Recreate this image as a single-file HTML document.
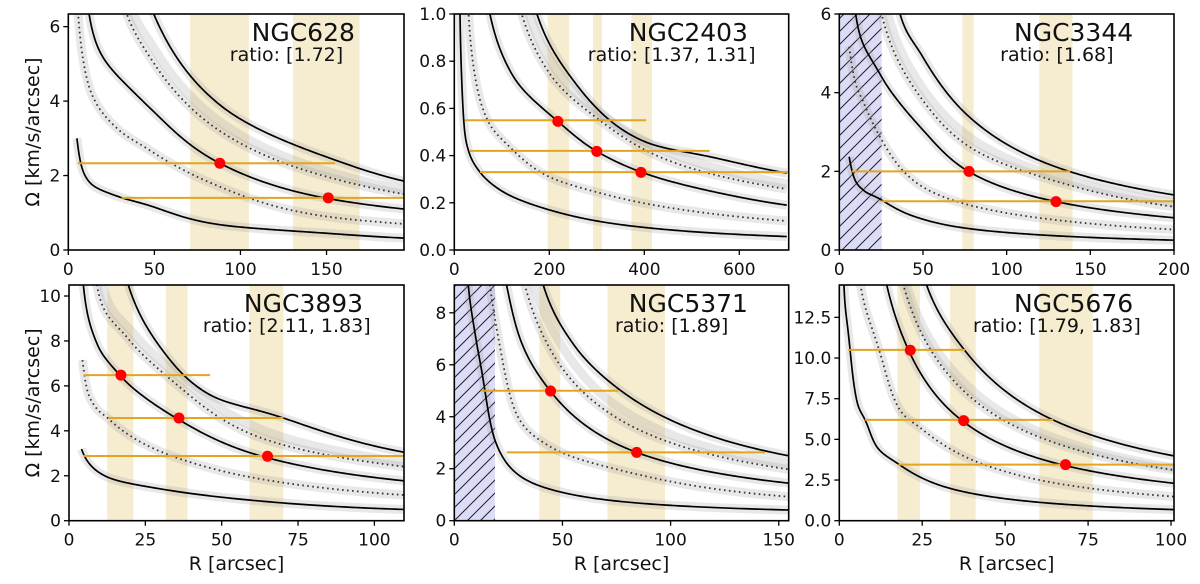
<!DOCTYPE html>
<html><head><meta charset="utf-8"><style>
html,body{margin:0;padding:0;background:#fff;}
svg{display:block;font-family:"DejaVu Sans","Liberation Sans",sans-serif;}
</style></head><body>
<svg id="fig" width="1200" height="584" viewBox="0 0 1200 584" xmlns="http://www.w3.org/2000/svg">
<defs>
<pattern id="hatch" patternUnits="userSpaceOnUse" width="13" height="13">
<rect width="13" height="13" fill="#dcdcf8"/>
<path d="M-1,1 L1,-1 M0,13 L13,0 M12,14 L14,12" stroke="#222" stroke-width="1"/>
</pattern>
</defs>
</svg>
<script>
// ===== NGC628 =====
const A_bot_R=[5,8,12,30,50,88,150,195]; const A_bot_W=[3.0,2.2,1.84,1.42,1.15,0.68,0.45,0.32];
const A_ld_R=[5,8,12,30,50,88,150,195]; const A_ld_W=[6.8,5.3,4.4,3.2,2.6,1.7,0.9,0.7];
const A_mid_R=[8,12,50,88,150,195]; const A_mid_W=[8.5,6.36,3.7,2.33,1.39,1.10];
const A_ud_R=[25,34,50,88,150,195]; const A_ud_W=[8.0,6.34,5.0,3.2,1.97,1.5];
const A_ex_R=[28,38,50,88,150,195]; const A_ex_W=[8.0,6.34,5.4,3.45,2.12,1.62];
const A_top_R=[38,50,88,150,195]; const A_top_W=[8.0,6.3,3.9,2.5,1.85];
const A_spanR0=[70.8,130.5]; const A_spanR1=[104.9,169.2];
const A_hW=[2.33,1.4]; const A_hR0=[5.5,31]; const A_hR1=[155,195];
const A_dotR=[88,151]; const A_dotW=[2.33,1.4];
const A_xticks=[0,50,100,150]; const A_yticks=[0,2,4,6];
// ===== NGC2403 =====
const B_bot_R=[10,12,16,22,30,54,100,200,380,700]; const B_bot_W=[1.4,1.0,0.7,0.5,0.42,0.33,0.25,0.17,0.10,0.057];
const B_ld_R=[25,30,45,70,120,200,300,450,700]; const B_ld_W=[1.25,1.0,0.72,0.55,0.43,0.31,0.245,0.18,0.123];
const B_mid_R=[60,75,120,218,300,395,550,700]; const B_mid_W=[1.2,1.0,0.75,0.545,0.418,0.329,0.245,0.19];
const B_ud_R=[120,142,200,306,450,700]; const B_ud_W=[1.2,1.0,0.75,0.55,0.38,0.258];
const B_ex_R=[135,158,220,320,470,700]; const B_ex_W=[1.2,1.0,0.75,0.56,0.40,0.28];
const B_top_R=[150,174,250,400,550,700]; const B_top_W=[1.2,1.0,0.72,0.46,0.39,0.326];
const B_spanR0=[196.5,292,372.9]; const B_spanR1=[241.8,311,416.4];
const B_hW=[0.55,0.42,0.33]; const B_hR0=[22.5,33,54]; const B_hR1=[404,537.6,704];
const B_dotR=[218,300,393]; const B_dotW=[0.545,0.418,0.329];
const B_xticks=[0,200,400,600]; const B_yticks=[0,0.2,0.4,0.6,0.8,1.0];
// ===== NGC3344 =====
const C_bot_R=[5.9,9.4,15,25.3,45,70,130,200]; const C_bot_W=[2.37,1.78,1.5,1.27,0.85,0.59,0.36,0.25];
const C_ld_R=[5.9,10,15,25.3,50,90,130,200]; const C_ld_W=[5.17,4.2,3.7,2.8,1.6,1.02,0.76,0.52];
const C_mid_R=[7,9.8,25.3,50,77.5,129.5,200]; const C_mid_W=[7.5,6.0,4.4,3.05,1.99,1.23,0.82];
const C_ud_R=[20,25.3,50,77.5,130,200]; const C_ud_W=[7.3,6.0,3.8,2.63,1.74,1.10];
const C_ex_R=[23,29,50,80,130,200]; const C_ex_W=[7.3,6.0,4.1,2.8,1.86,1.2];
const C_top_R=[30,36.3,50,77.5,138,200]; const C_top_W=[7.5,6.0,4.9,3.39,1.99,1.40];
const C_spanR0=[73.5,119.5]; const C_spanR1=[80.3,139.4];
const C_hW=[2.0,1.24]; const C_hR0=[7.4,25.3]; const C_hR1=[138,200];
const C_dotR=[77.5,129.5]; const C_dotW=[2.0,1.23];
const C_xticks=[0,50,100,150,200]; const C_yticks=[0,2,4,6];
// ===== NGC3893 =====
const D_bot_R=[4.1,5.8,12.3,32,59,110]; const D_bot_W=[3.19,2.7,1.96,1.37,0.92,0.5];
const D_ld_R=[4.4,6,9,13.4,37.5,64.7,110]; const D_ld_W=[7.15,5.8,5.0,4.48,2.7,1.81,1.14];
const D_mid_R=[4,4.7,9.1,16.9,35.8,64.4,110]; const D_mid_W=[12,10.5,7.9,6.44,4.51,2.82,1.77];
const D_ud_R=[7.5,9.1,20,35.8,64.7,110]; const D_ud_W=[12.5,10.5,8.0,6.0,3.6,2.40];
const D_ex_R=[9,11,22,38,66,110]; const D_ex_W=[12.5,10.5,8.2,6.2,3.9,2.6];
const D_top_R=[16,19.4,30,46.2,70.2,110]; const D_top_W=[12.5,10.5,7.7,5.6,4.57,3.04];
const D_spanR0=[12.5,31.7,59.1]; const D_spanR1=[21.1,38.8,70.2];
const D_hW=[6.48,4.57,2.88]; const D_hR0=[4.7,12.9,4.7]; const D_hR1=[46.2,70.2,110];
const D_dotR=[17,36,65]; const D_dotW=[6.48,4.57,2.87];
const D_xticks=[0,25,50,75,100]; const D_yticks=[0,2,4,6,8,10];
// ===== NGC5371 =====
const E_bot_R=[5,6.5,10,13.4,18.8,28.8,52,98,155]; const E_bot_W=[11,9.05,7,5.4,3.1,1.82,1.05,0.6,0.41];
const E_ld_R=[14,16.5,21.1,28.8,44.3,82.8,155]; const E_ld_W=[11,9.05,6.7,4.1,2.85,1.82,0.92];
const E_mid_R=[20,24.2,30,44.4,84.3,155]; const E_mid_W=[11,9.05,7.1,4.99,2.63,1.44];
const E_ud_R=[28,32.7,45,67.3,155]; const E_ud_W=[11,9.05,6.5,4.4,1.97];
const E_ex_R=[31,36.7,50,72,155]; const E_ex_W=[11,9.05,6.7,4.6,2.15];
const E_top_R=[36,41.2,55,76.6,155]; const E_top_W=[11,9.05,6.8,5.03,2.49];
const E_spanR0=[39.3,70.8]; const E_spanR1=[49,97.4];
const E_hW=[5.0,2.63]; const E_hR0=[12.6,24.2]; const E_hR1=[75.8,143.7];
const E_dotR=[44.5,84.3]; const E_dotW=[4.99,2.63];
const E_xticks=[0,50,100,150]; const E_yticks=[0,2,4,6,8];
// ===== NGC5676 =====
const F_bot_R=[1.0,1.4,3,5.5,8.2,11.3,18.3,35,65,101]; const F_bot_W=[18,14.5,11,7.2,6.0,4.55,3.42,1.9,1.05,0.68];
const F_ld_R=[5,6.4,12.3,18.3,25.3,45.4,65.5,101]; const F_ld_W=[17,14.5,10.3,6.8,5.57,3.32,2.3,1.48];
const F_mid_R=[12,14.3,21,37.4,68.3,101]; const F_mid_W=[17,14.5,10.43,6.09,3.38,2.3];
const F_ud_R=[16.5,19.3,37.4,65.5,101]; const F_ud_W=[17,14.5,8.0,4.75,3.11];
const F_ex_R=[17.5,20.3,38,66,101]; const F_ex_W=[17,14.5,8.4,5.0,3.25];
const F_top_R=[23,26.3,37.9,64.5,101]; const F_top_W=[17,14.5,10.45,6.19,3.98];
const F_spanR0=[17.5,33.4,60.3]; const F_spanR1=[24.3,41.1,76.4];
const F_hW=[10.5,6.2,3.45]; const F_hR0=[2.7,7.7,17.8]; const F_hR1=[37.9,64.5,101];
const F_dotR=[21.4,37.5,68.2]; const F_dotW=[10.48,6.15,3.45];
const F_xticks=[0,25,50,75,100]; const F_yticks=[0,2.5,5,7.5,10,12.5];

const NS='http://www.w3.org/2000/svg';
const svg=document.getElementById('fig');
function mk(tag,attrs,parent){const e=document.createElementNS(NS,tag);for(const k in attrs)e.setAttribute(k,attrs[k]);(parent||svg).appendChild(e);return e;}

function interp(Rs,Ws){
  const n=Rs.length,x=Rs.map(Math.log),y=Ws.map(Math.log);
  const d=[],m=[];
  for(let i=0;i<n-1;i++)d.push((y[i+1]-y[i])/(x[i+1]-x[i]));
  m[0]=d[0];m[n-1]=d[n-2];
  for(let i=1;i<n-1;i++){m[i]=(d[i-1]*d[i]<=0)?0:(d[i-1]+d[i])/2;}
  for(let i=0;i<n-1;i++){if(d[i]===0){m[i]=m[i+1]=0;continue;}const a=m[i]/d[i],b=m[i+1]/d[i],s=a*a+b*b;if(s>9){const t=3/Math.sqrt(s);m[i]=t*a*d[i];m[i+1]=t*b*d[i];}}
  const pts=[];
  for(let i=0;i<n-1;i++){const h=x[i+1]-x[i];const N=40;
    for(let k=(i===0?0:1);k<=N;k++){const t=k/N,t2=t*t,t3=t2*t;
      const yy=(2*t3-3*t2+1)*y[i]+(t3-2*t2+t)*h*m[i]+(-2*t3+3*t2)*y[i+1]+(t3-t2)*h*m[i+1];
      pts.push([Math.exp(x[i]+t*h),Math.exp(yy)]);}}
  return pts;
}

const panels=[
 {id:'ngc628',title:'NGC628',ratio:'ratio: [1.72]',x0:68.3,x1:404,y0:14,y1:250,xmax:195,ymax:6.34,P:'A',dec:0,ylab:true,xlab:false,hatch:0},
 {id:'ngc2403',title:'NGC2403',ratio:'ratio: [1.37, 1.31]',x0:454.3,x1:788.7,y0:14,y1:250,xmax:704,ymax:1.0,P:'B',dec:1,ylab:false,xlab:false,hatch:0},
 {id:'ngc3344',title:'NGC3344',ratio:'ratio: [1.68]',x0:839.3,x1:1174,y0:14,y1:250,xmax:200,ymax:6,P:'C',dec:0,ylab:false,xlab:false,hatch:25.3},
 {id:'ngc3893',title:'NGC3893',ratio:'ratio: [2.11, 1.83]',x0:69,x1:404,y0:285,y1:520.7,xmax:109.7,ymax:10.49,P:'D',dec:0,ylab:true,xlab:true,hatch:0},
 {id:'ngc5371',title:'NGC5371',ratio:'ratio: [1.89]',x0:454.3,x1:788.7,y0:285,y1:520.7,xmax:154.6,ymax:9.07,P:'E',dec:0,ylab:false,xlab:true,hatch:18.8},
 {id:'ngc5676',title:'NGC5676',ratio:'ratio: [1.79, 1.83]',x0:839.3,x1:1174,y0:285,y1:520.7,xmax:100.9,ymax:14.49,P:'F',dec:1,ylab:false,xlab:true,hatch:0}
];
const DATA={A:{bot:[A_bot_R,A_bot_W],ld:[A_ld_R,A_ld_W],mid:[A_mid_R,A_mid_W],ud:[A_ud_R,A_ud_W],ex:[A_ex_R,A_ex_W],top:[A_top_R,A_top_W],s0:A_spanR0,s1:A_spanR1,hW:A_hW,h0:A_hR0,h1:A_hR1,dR:A_dotR,dW:A_dotW,xt:A_xticks,yt:A_yticks},
B:{bot:[B_bot_R,B_bot_W],ld:[B_ld_R,B_ld_W],mid:[B_mid_R,B_mid_W],ud:[B_ud_R,B_ud_W],ex:[B_ex_R,B_ex_W],top:[B_top_R,B_top_W],s0:B_spanR0,s1:B_spanR1,hW:B_hW,h0:B_hR0,h1:B_hR1,dR:B_dotR,dW:B_dotW,xt:B_xticks,yt:B_yticks},
C:{bot:[C_bot_R,C_bot_W],ld:[C_ld_R,C_ld_W],mid:[C_mid_R,C_mid_W],ud:[C_ud_R,C_ud_W],ex:[C_ex_R,C_ex_W],top:[C_top_R,C_top_W],s0:C_spanR0,s1:C_spanR1,hW:C_hW,h0:C_hR0,h1:C_hR1,dR:C_dotR,dW:C_dotW,xt:C_xticks,yt:C_yticks},
D:{bot:[D_bot_R,D_bot_W],ld:[D_ld_R,D_ld_W],mid:[D_mid_R,D_mid_W],ud:[D_ud_R,D_ud_W],ex:[D_ex_R,D_ex_W],top:[D_top_R,D_top_W],s0:D_spanR0,s1:D_spanR1,hW:D_hW,h0:D_hR0,h1:D_hR1,dR:D_dotR,dW:D_dotW,xt:D_xticks,yt:D_yticks},
E:{bot:[E_bot_R,E_bot_W],ld:[E_ld_R,E_ld_W],mid:[E_mid_R,E_mid_W],ud:[E_ud_R,E_ud_W],ex:[E_ex_R,E_ex_W],top:[E_top_R,E_top_W],s0:E_spanR0,s1:E_spanR1,hW:E_hW,h0:E_hR0,h1:E_hR1,dR:E_dotR,dW:E_dotW,xt:E_xticks,yt:E_yticks},
F:{bot:[F_bot_R,F_bot_W],ld:[F_ld_R,F_ld_W],mid:[F_mid_R,F_mid_W],ud:[F_ud_R,F_ud_W],ex:[F_ex_R,F_ex_W],top:[F_top_R,F_top_W],s0:F_spanR0,s1:F_spanR1,hW:F_hW,h0:F_hR0,h1:F_hR1,dR:F_dotR,dW:F_dotW,xt:F_xticks,yt:F_yticks}};

const defs=svg.querySelector('defs');
panels.forEach(p=>{
  const D=DATA[p.P];
  const sx=r=>p.x0+(p.x1-p.x0)*r/p.xmax;
  const sy=w=>p.y1-(p.y1-p.y0)*w/p.ymax;
  const cp=mk('clipPath',{id:'clip-'+p.id},defs);
  mk('rect',{x:p.x0,y:p.y0,width:p.x1-p.x0,height:p.y1-p.y0},cp);
  const g=mk('g',{});
  
  
  const pg=mk('g',{'clip-path':'url(#clip-'+p.id+')'},g);
  D.s0.forEach((r0,i)=>{
    const e=mk('rect',{x:sx(r0),y:p.y0,width:sx(D.s1[i])-sx(r0),height:p.y1-p.y0,fill:'rgba(232,205,130,0.38)'},pg);
    
    
  });
  if(p.hatch>0){
    const e=mk('rect',{x:p.x0,y:p.y0,width:sx(p.hatch)-p.x0,height:p.y1-p.y0,fill:'url(#hatch)'},pg);
    
    
  }
  const curves=[['bot','solid'],['ld','dot'],['mid','solid'],['ud','dot'],['ex','band'],['top','solid']];
  const paths={};
  curves.forEach(([k])=>{
    const pts=interp(D[k][0],D[k][1]);
    paths[k]='M'+pts.map(q=>sx(q[0]).toFixed(2)+','+sy(q[1]).toFixed(2)).join('L');
  });
  curves.forEach(([k])=>{
    const e=mk('path',{d:paths[k],fill:'none',stroke:'rgba(160,160,160,0.24)','stroke-width':9},pg);
    
    
  });
  curves.forEach(([k,s])=>{
    if(s==='band')return;
    const at={d:paths[k],fill:'none',stroke:s==='dot'?'#333':'#000','stroke-width':s==='dot'?1.8:1.7};
    if(s==='dot')at['stroke-dasharray']='1.6 3.4';
    const e=mk('path',at,pg);
    
    
  });
  D.hW.forEach((w,i)=>{
    const e=mk('line',{x1:sx(D.h0[i]),x2:sx(D.h1[i]),y1:sy(w),y2:sy(w),stroke:'#e3a521','stroke-width':2},pg);
    
    
  });
  D.dR.forEach((r,i)=>{
    const e=mk('circle',{cx:sx(r),cy:sy(D.dW[i]),r:5.5,fill:'#ff0000'},pg);
    
    
  });
  const fr=mk('rect',{x:p.x0,y:p.y0,width:p.x1-p.x0,height:p.y1-p.y0,fill:'none',stroke:'#000','stroke-width':1.6},g);
  
  
  D.xt.forEach(t=>{
    const x=sx(t);
    mk('line',{x1:x,x2:x,y1:p.y1,y2:p.y1+5,stroke:'#000','stroke-width':1.3},g);
    const e=mk('text',{x:x,y:p.y1+25,'text-anchor':'middle','font-size':17,fill:'#111'},g);
    e.textContent=String(t);
    
    
  });
  D.yt.forEach(t=>{
    const y=sy(t);
    mk('line',{x1:p.x0-5,x2:p.x0,y1:y,y2:y,stroke:'#000','stroke-width':1.3},g);
    const e=mk('text',{x:p.x0-8,y:y+6,'text-anchor':'end','font-size':17,fill:'#111'},g);
    e.textContent=p.dec?t.toFixed(1):String(t);
    
    
  });
  const tt=mk('text',{x:p.x0+(p.x1-p.x0)*0.7,y:p.y0+27,'text-anchor':'middle','font-size':25,fill:'#111'},g);
  tt.textContent=p.title;
  
  
  const rt=mk('text',{x:p.x0+(p.x1-p.x0)*0.65,y:p.y0+47,'text-anchor':'middle','font-size':19,fill:'#111'},g);
  rt.textContent=p.ratio;
  
  
  if(p.ylab){
    const cy=(p.y0+p.y1)/2;
    const yl=mk('text',{x:39,y:cy,'text-anchor':'middle','font-size':19,fill:'#111',transform:'rotate(-90 39 '+cy+')'},g);
    yl.textContent='Ω [km/s/arcsec]';
    
    
  }
  if(p.xlab){
    const xl=mk('text',{x:(p.x0+p.x1)/2,y:570,'text-anchor':'middle','font-size':19,fill:'#111'},g);
    xl.textContent='R [arcsec]';
    
    
  }
});
</script>
</body></html>
